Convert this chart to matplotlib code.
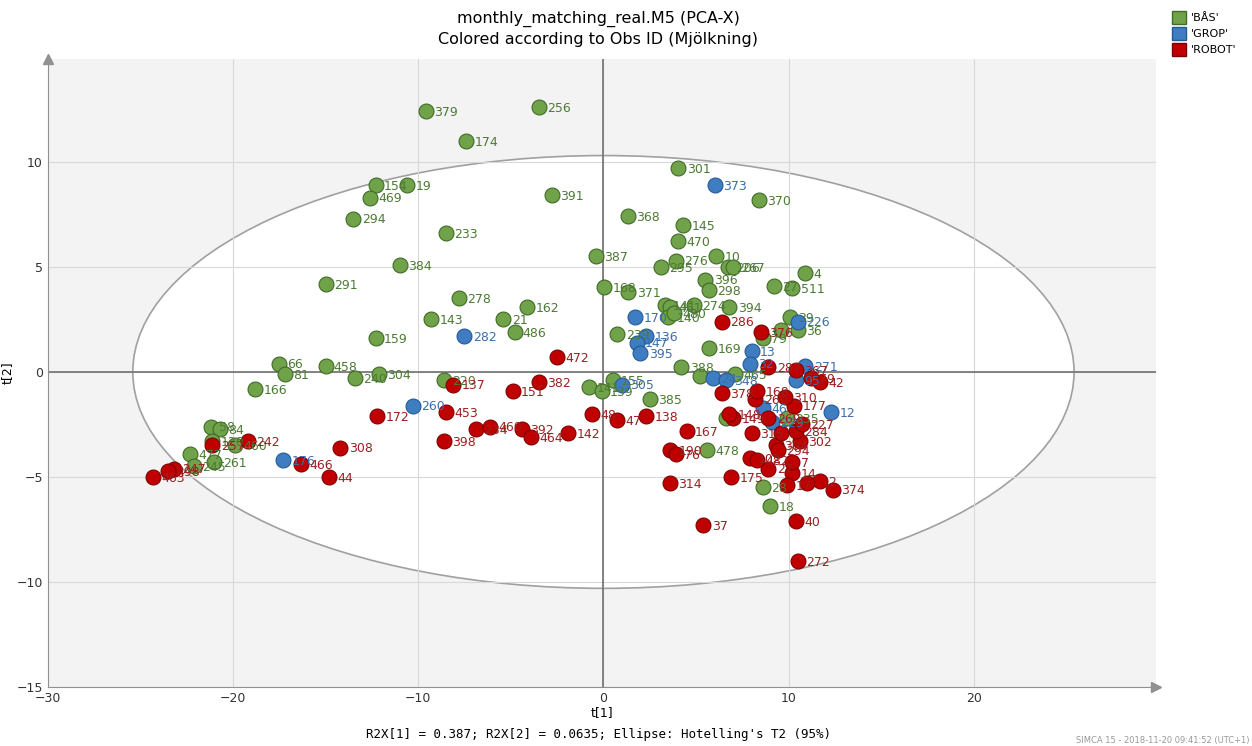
import matplotlib.pyplot as plt
from matplotlib.patches import Ellipse, Patch

# BÅS
bas_x = [-9.6, -3.5, -7.4, -12.3, -10.6, -12.6, -13.5, -8.5, -2.8, -11.0, -15.0, -7.8, -4.1, -9.3, -5.4, -4.8,
         -12.3, -17.5, -17.2, -15.0, -13.4, -12.1, -18.8, -8.6, -21.2, -20.7, -21.1, -19.9, -22.3, -21.0, -22.1,
         4.05, 8.4, 1.3, 4.3, 4.05, -0.4, 3.9, 3.1, 6.1, 6.7, 7.0, 5.5, 5.7, 10.9, 9.2, 10.2, 0.05, 1.35, 4.9, 6.8,
         3.3, 3.6, 3.5, 3.8, 10.05, 10.5, 8.6, 9.6, 0.75, 5.7, 4.2, 7.1, 5.2, 0.5, -0.8, -0.1, 2.5, 5.6, 8.6, 9.0,
         6.6, 9.9]
bas_y = [12.4, 12.6, 11.0, 8.9, 8.9, 8.3, 7.3, 6.6, 8.4, 5.1, 4.2, 3.5, 3.1, 2.5, 2.5, 1.9,
         1.6, 0.4, -0.1, 0.3, -0.3, -0.1, -0.8, -0.4, -2.6, -2.7, -3.3, -3.5, -3.9, -4.3, -4.5,
         9.7, 8.2, 7.4, 7.0, 6.25, 5.5, 5.3, 5.0, 5.5, 5.0, 5.0, 4.4, 3.9, 4.7, 4.1, 4.0, 4.05, 3.8, 3.2, 3.1,
         3.2, 3.1, 2.6, 2.8, 2.6, 2.0, 1.6, 2.0, 1.8, 1.15, 0.25, -0.1, -0.2, -0.4, -0.7, -0.9, -1.3, -3.7, -5.5, -6.4,
         -2.2, -2.2]
bas_lab = ['379', '256', '174', '154', '19', '469', '294', '233', '391', '384', '291', '278', '162', '143', '21', '486',
           '159', '66', '81', '458', '240', '304', '166', '220', '58', '84', '120', '460', '477', '261', '245',
           '301', '370', '368', '145', '470', '387', '276', '295', '10', '206', '267', '396', '298', '4', '27', '511',
           '168', '371', '274', '394', '141', '461', '140', '480', '39', '36', '79', '', '239', '169', '388', '465', '',
           '155', '141', '139', '385', '478', '28', '18', '', '235']

# GROP
grop_x = [-7.5, -10.3, -17.3, 6.0, 1.7, 2.3, 1.8, 2.0, 10.5, 8.0, 7.9, 10.9, 10.4, 1.0, 5.9, 6.6, 8.6, 12.3, 9.1]
grop_y = [1.7, -1.6, -4.2, 8.9, 2.6, 1.7, 1.4, 0.9, 2.4, 1.0, 0.4, 0.3, -0.4, -0.6, -0.3, -0.4, -1.7, -1.9, -2.4]
grop_lab = ['282', '260', '176', '373', '170', '136', '147', '395', '226', '13', '32', '271', '95', '305', '24', '348',
            '46', '12', '229']

# ROBOT
robot_x = [-2.5, -3.5, -4.9, -8.1, -8.5, -12.2, -8.6, -6.9, -6.1, -4.4, -3.9, -1.9, -0.6, 0.75, 2.3, 4.5, 3.6, 3.9,
           3.6, 5.4, 6.9, 10.4, 10.5, 12.4, 11.7, 10.2, 9.9, 11.0, 10.2, 8.9, 7.9, 8.3, 9.3, 9.4, 10.6, 10.4, 10.7,
           9.6, 8.0, 7.0, 6.8, 8.9, 10.3, 9.8, 6.4, 8.2, 8.3, 11.7, 11.2, 10.4, 8.9, 8.5, 6.4,
           -19.2, -21.1, -14.2, -16.3, -14.8, -23.2, -24.3, -23.5]
robot_y = [0.7, -0.5, -0.9, -0.6, -1.9, -2.1, -3.3, -2.7, -2.6, -2.7, -3.1, -2.9, -2.0, -2.3, -2.1, -2.8, -3.7, -3.9,
           -5.3, -7.3, -5.0, -7.1, -9.0, -5.6, -5.2, -4.8, -5.4, -5.3, -4.3, -4.6, -4.1, -4.2, -3.5, -3.7, -3.3, -2.8,
           -2.5, -2.9, -2.9, -2.2, -2.0, -2.2, -1.6, -1.2, -1.0, -1.3, -0.9, -0.5, -0.3, 0.1, 0.25, 1.9, 2.4,
           -3.3, -3.5, -3.6, -4.4, -5.0, -4.6, -5.0, -4.7]
robot_lab = ['472', '382', '151', '137', '453', '172', '398', '234', '460', '392', '464', '142', '48', '47', '138', '167',
             '190', '76', '314', '37', '175', '40', '272', '374', '2', '14', '17', '', '7', '27', '102', '482', '304',
             '294', '302', '284', '227', '', '315', '149', '148', '269', '177', '310', '378', '260', '168', '42', '79',
             '367', '287', '376', '286',
             '242', '257', '308', '466', '44', '247', '463', '498']

groups = [
    ("'BÅS'", bas_x, bas_y, bas_lab, '#70a24a', '#3f6b26', '#4d7a34'),
    ("'GROP'", grop_x, grop_y, grop_lab, '#3e7dc1', '#245a94', '#3d6fa8'),
    ("'ROBOT'", robot_x, robot_y, robot_lab, '#c00000', '#800000', '#9b2020'),
]

fig = plt.figure(figsize=(12.52, 7.46), dpi=100)
ax = fig.add_axes([0.038, 0.079, 0.885, 0.842])
ax.set_facecolor('#f3f3f3')
ax.set_xlim(-30, 29.8)
ax.set_ylim(-15, 14.9)

ax.add_patch(Ellipse((0, 0), 50.8, 20.6, facecolor='white', edgecolor='#a0a0a0', lw=1.2, zorder=0.5))
ax.grid(True, color='#d8d8d8', lw=0.8, zorder=0.4)
ax.set_axisbelow(True)
ax.axhline(0, color='#707070', lw=1.2, zorder=1)
ax.axvline(0, color='#707070', lw=1.2, zorder=1)

for name, xs, ys, labs, fc, ec, tc in groups:
    ax.scatter(xs, ys, s=115, c=fc, edgecolors=ec, linewidths=0.8, zorder=3)
    for x, y, t in zip(xs, ys, labs):
        if t:
            ax.annotate(t, (x, y), xytext=(6, -1), textcoords='offset points', va='center',
                        fontsize=9, color=tc, zorder=4)

ax.set_xticks([-30, -20, -10, 0, 10, 20])
ax.set_yticks([-15, -10, -5, 0, 5, 10])
ax.tick_params(length=0, labelsize=9, colors='#333333')
for s in ['top', 'right']:
    ax.spines[s].set_visible(False)
for s in ['left', 'bottom']:
    ax.spines[s].set_color('#909090')
ax.plot(1, 0, '>', color='#909090', ms=7, transform=ax.transAxes, clip_on=False)
ax.plot(0, 1, '^', color='#909090', ms=7, transform=ax.transAxes, clip_on=False)
ax.set_xlabel('t[1]', fontsize=9, labelpad=1)
ax.set_ylabel('t[2]', fontsize=9, labelpad=2)

fig.text(0.478, 0.975, 'monthly_matching_real.M5 (PCA-X)', ha='center', va='center', fontsize=11.5)
fig.text(0.478, 0.947, 'Colored according to Obs ID (Mjölkning)', ha='center', va='center', fontsize=11.5)
fig.text(0.478, 0.016, "R2X[1] = 0.387; R2X[2] = 0.0635; Ellipse: Hotelling's T2 (95%)", ha='center',
         va='center', fontsize=9, family='DejaVu Sans Mono')
fig.text(0.998, 0.002, 'SIMCA 15 - 2018-11-20 09:41:52 (UTC+1)', ha='right', va='bottom', fontsize=6,
         color='#999999')

handles = [Patch(facecolor=g[4], edgecolor=g[5], label=g[0]) for g in groups]
fig.legend(handles=handles, loc='upper left', bbox_to_anchor=(0.928, 0.998), frameon=False, fontsize=8,
           handlelength=1.3, handleheight=1.3, labelspacing=0.35, handletextpad=0.4)

fig.savefig('out.png', dpi=100)
